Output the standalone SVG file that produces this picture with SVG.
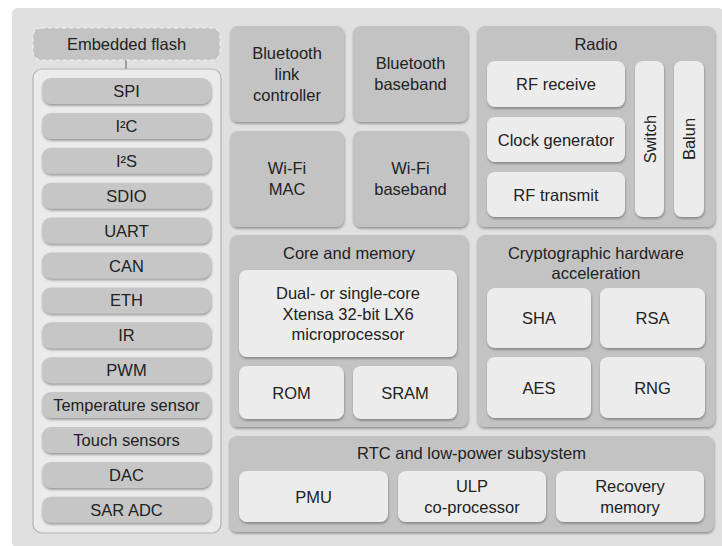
<svg xmlns="http://www.w3.org/2000/svg" width="722" height="546" viewBox="0 0 722 546">
<defs>
<filter id="sh" x="-10%" y="-10%" width="120%" height="130%">
<feDropShadow dx="0.5" dy="1.8" stdDeviation="0.8" flood-color="#555555" flood-opacity="0.55"/>
</filter>
</defs>
<style>
text{font-family:"Liberation Sans",Arial,sans-serif;font-size:16.5px;fill:#222;text-anchor:middle;dominant-baseline:central}
.grp{fill:#c3c3c3;filter:url(#sh)}
.lt{fill:#ececec;filter:url(#sh)}
.it{fill:#c6c6c6;filter:url(#sh)}
</style>
<rect x="0" y="0" width="722" height="546" fill="#ffffff"/>
<rect x="12" y="8" width="712" height="540" rx="6" fill="#e0e0e0"/>

<g id="connectors">
<line x1="126" y1="60" x2="126" y2="78" stroke="#888" stroke-width="1.5"/>
</g>

<g id="embedded-flash">
<rect x="33" y="28" width="187" height="32" rx="8" fill="#c3c3c3" stroke="#efefef" stroke-width="1.2" stroke-dasharray="4 3"/>
<text x="126.5" y="44">Embedded flash</text>
</g>

<g id="peripherals">
<rect x="33" y="69" width="188" height="464" rx="9" fill="#ebebeb" stroke="#b3b3b3" stroke-width="1.2"/>
<g id="spi"><rect class="it" x="42" y="78" width="169" height="26" rx="9"/><text x="126.5" y="91">SPI</text></g>
<g id="i2c"><rect class="it" x="42" y="112.9" width="169" height="26" rx="9"/><text x="126.5" y="125.9">I²C</text></g>
<g id="i2s"><rect class="it" x="42" y="147.8" width="169" height="26" rx="9"/><text x="126.5" y="160.8">I²S</text></g>
<g id="sdio"><rect class="it" x="42" y="182.7" width="169" height="26" rx="9"/><text x="126.5" y="195.7">SDIO</text></g>
<g id="uart"><rect class="it" x="42" y="217.6" width="169" height="26" rx="9"/><text x="126.5" y="230.6">UART</text></g>
<g id="can"><rect class="it" x="42" y="252.5" width="169" height="26" rx="9"/><text x="126.5" y="265.5">CAN</text></g>
<g id="eth"><rect class="it" x="42" y="287.4" width="169" height="26" rx="9"/><text x="126.5" y="300.4">ETH</text></g>
<g id="ir"><rect class="it" x="42" y="322.3" width="169" height="26" rx="9"/><text x="126.5" y="335.3">IR</text></g>
<g id="pwm"><rect class="it" x="42" y="357.2" width="169" height="26" rx="9"/><text x="126.5" y="370.2">PWM</text></g>
<g id="temp"><rect class="it" x="42" y="392.1" width="169" height="26" rx="9"/><text x="126.5" y="405.1">Temperature sensor</text></g>
<g id="touch"><rect class="it" x="42" y="427" width="169" height="26" rx="9"/><text x="126.5" y="440">Touch sensors</text></g>
<g id="dac"><rect class="it" x="42" y="461.9" width="169" height="26" rx="9"/><text x="126.5" y="474.9">DAC</text></g>
<g id="saradc"><rect class="it" x="42" y="496.8" width="169" height="26" rx="9"/><text x="126.5" y="509.8">SAR ADC</text></g>
</g>

<g id="bt-link">
<rect class="grp" x="230" y="26" width="114" height="96" rx="8"/>
<text x="287" y="53">Bluetooth</text><text x="287" y="74">link</text><text x="287" y="95">controller</text>
</g>
<g id="bt-baseband">
<rect class="grp" x="353" y="26" width="115" height="96" rx="8"/>
<text x="410.5" y="63">Bluetooth</text><text x="410.5" y="84">baseband</text>
</g>
<g id="wifi-mac">
<rect class="grp" x="230" y="131" width="114" height="96" rx="8"/>
<text x="287" y="168">Wi-Fi</text><text x="287" y="189">MAC</text>
</g>
<g id="wifi-baseband">
<rect class="grp" x="353" y="131" width="115" height="96" rx="8"/>
<text x="410.5" y="168">Wi-Fi</text><text x="410.5" y="189">baseband</text>
</g>

<g id="radio">
<rect class="grp" x="477" y="26" width="238" height="201" rx="8"/>
<text x="596" y="44">Radio</text>
<g id="rf-receive"><rect class="lt" x="487" y="61" width="138" height="46" rx="8"/><text x="556" y="84">RF receive</text></g>
<g id="clock-gen"><rect class="lt" x="487" y="117" width="138" height="45" rx="8"/><text x="556" y="139.5">Clock generator</text></g>
<g id="rf-transmit"><rect class="lt" x="487" y="172" width="138" height="45" rx="8"/><text x="556" y="194.5">RF transmit</text></g>
<g id="switch"><rect class="lt" x="635" y="61" width="29" height="156" rx="8"/><text transform="translate(649.5 139) rotate(-90)" x="0" y="0">Switch</text></g>
<g id="balun"><rect class="lt" x="674" y="61" width="30" height="156" rx="8"/><text transform="translate(689 139) rotate(-90)" x="0" y="0">Balun</text></g>
</g>

<g id="core-memory">
<rect class="grp" x="230" y="235" width="238" height="192" rx="8"/>
<text x="349" y="253">Core and memory</text>
<g id="cpu"><rect class="lt" x="239" y="270" width="218" height="87" rx="8"/>
<text x="348" y="293">Dual- or single-core</text><text x="348" y="313.5">Xtensa 32-bit LX6</text><text x="348" y="334">microprocessor</text></g>
<g id="rom"><rect class="lt" x="239" y="366" width="105" height="53" rx="8"/><text x="291.5" y="392.5">ROM</text></g>
<g id="sram"><rect class="lt" x="353" y="366" width="104" height="53" rx="8"/><text x="405" y="392.5">SRAM</text></g>
</g>

<g id="crypto">
<rect class="grp" x="477" y="235" width="238" height="192" rx="8"/>
<text x="596" y="253">Cryptographic hardware</text><text x="596" y="273">acceleration</text>
<g id="sha"><rect class="lt" x="487" y="288" width="104" height="60" rx="8"/><text x="539" y="318">SHA</text></g>
<g id="rsa"><rect class="lt" x="600" y="288" width="105" height="60" rx="8"/><text x="652.5" y="318">RSA</text></g>
<g id="aes"><rect class="lt" x="487" y="357" width="104" height="61" rx="8"/><text x="539" y="387.5">AES</text></g>
<g id="rng"><rect class="lt" x="600" y="357" width="105" height="61" rx="8"/><text x="652.5" y="387.5">RNG</text></g>
</g>

<g id="rtc">
<rect class="grp" x="229" y="436" width="485" height="96" rx="8"/>
<text x="471.5" y="453">RTC and low-power subsystem</text>
<g id="pmu"><rect class="lt" x="239" y="471" width="149" height="51" rx="8"/><text x="313.5" y="496.5">PMU</text></g>
<g id="ulp"><rect class="lt" x="398" y="471" width="148" height="51" rx="8"/><text x="472" y="486">ULP</text><text x="472" y="507">co-processor</text></g>
<g id="recovery"><rect class="lt" x="556" y="471" width="148" height="51" rx="8"/><text x="630" y="486">Recovery</text><text x="630" y="507">memory</text></g>
</g>
</svg>
